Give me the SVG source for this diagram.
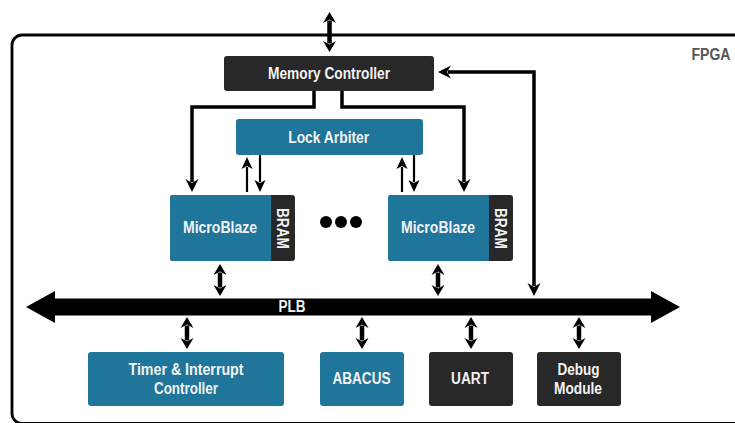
<svg xmlns="http://www.w3.org/2000/svg" width="735" height="423" viewBox="0 0 735 423">
<style>
.teal{fill:#20759a}
.dark{fill:#282828}
.lbl{font-family:"Liberation Sans",Arial,sans-serif;font-weight:bold;font-size:16px;fill:#f2f2f2;text-anchor:middle}
.w4{stroke:#000;stroke-width:4.5;fill:none}
.w3{stroke:#000;stroke-width:3.5;fill:none}
.w2{stroke:#000;stroke-width:2.2;fill:none}
</style>
<defs>
<marker id="hb" markerUnits="userSpaceOnUse" orient="auto-start-reverse" markerWidth="30" markerHeight="30" refX="0" refY="0" viewBox="-15 -15 30 30" overflow="visible">
<path d="M1,0 L-2.5,-6.5 L8.5,0 L-2.5,6.5 Z" fill="#000"/>
</marker>
<marker id="hm" markerUnits="userSpaceOnUse" orient="auto-start-reverse" markerWidth="30" markerHeight="30" refX="0" refY="0" viewBox="-15 -15 30 30" overflow="visible">
<path d="M1,0 L-3,-6.5 L10,0 L-3,6.5 Z" fill="#000"/>
</marker>
<marker id="hs" markerUnits="userSpaceOnUse" orient="auto-start-reverse" markerWidth="30" markerHeight="30" refX="0" refY="0" viewBox="-15 -15 30 30" overflow="visible">
<path d="M1,0 L-2,-5.5 L10,0 L-2,5.5 Z" fill="#000"/>
</marker>
</defs>

<rect x="12" y="35" width="740" height="388.5" rx="10" fill="none" stroke="#000" stroke-width="2.8"/>
<text x="711" y="60" font-family="Liberation Sans,Arial,sans-serif" font-weight="bold" font-size="16" fill="#555" text-anchor="middle" textLength="39" lengthAdjust="spacingAndGlyphs">FPGA</text>

<g id="connectors">
<path class="w4" d="M329.5,20.5 V43.5" marker-start="url(#hb)" marker-end="url(#hb)"/>
<path class="w3" d="M314,91 V107 H192 V182" marker-end="url(#hm)"/>
<path class="w3" d="M342,91 V107 H464 V182" marker-end="url(#hm)"/>
<path class="w3" d="M448,72 H534 V286" marker-start="url(#hm)" marker-end="url(#hm)"/>
<path class="w2" d="M247,192 V167" marker-end="url(#hs)"/>
<path class="w2" d="M260,155 V182" marker-end="url(#hs)"/>
<path class="w2" d="M402,192 V167" marker-end="url(#hs)"/>
<path class="w2" d="M414,155 V182" marker-end="url(#hs)"/>
<path class="w4" d="M220,272.5 V287.5" marker-start="url(#hb)" marker-end="url(#hb)"/>
<path class="w4" d="M438,272.5 V287.5" marker-start="url(#hb)" marker-end="url(#hb)"/>
<path class="w4" d="M187,325.5 V340.5" marker-start="url(#hb)" marker-end="url(#hb)"/>
<path class="w4" d="M362,325.5 V340.5" marker-start="url(#hb)" marker-end="url(#hb)"/>
<path class="w4" d="M471,325.5 V340.5" marker-start="url(#hb)" marker-end="url(#hb)"/>
<path class="w4" d="M579,325.5 V340.5" marker-start="url(#hb)" marker-end="url(#hb)"/>
</g>

<g id="plb">
<path d="M26,307 L55,291 L55,298.5 L651,298.5 L651,291 L680,307 L651,323 L651,315.5 L55,315.5 L55,323 Z" fill="#000"/>
<text class="lbl" x="292" y="312" font-size="15" textLength="27" lengthAdjust="spacingAndGlyphs">PLB</text>
</g>

<g id="memory-controller">
<rect class="dark" x="224" y="56" width="210" height="35" rx="3"/>
<text class="lbl" x="329" y="79" textLength="122" lengthAdjust="spacingAndGlyphs">Memory Controller</text>
</g>

<g id="lock-arbiter">
<rect class="teal" x="236" y="119" width="187" height="36" rx="3"/>
<text class="lbl" x="328.7" y="143" textLength="81" lengthAdjust="spacingAndGlyphs">Lock Arbiter</text>
</g>

<g id="microblaze-1">
<rect class="dark" x="170" y="195" width="125" height="66" rx="3"/>
<path class="teal" d="M173,195 H271 V261 H173 A3,3 0 0 1 170,258 V198 A3,3 0 0 1 173,195 Z"/>
<text class="lbl" x="220" y="233" textLength="74" lengthAdjust="spacingAndGlyphs">MicroBlaze</text>
<text class="lbl" transform="translate(276.5,228.5) rotate(90)" textLength="41" lengthAdjust="spacingAndGlyphs">BRAM</text>
</g>

<g id="dots">
<circle cx="326" cy="222" r="6" fill="#000"/>
<circle cx="341" cy="222" r="6" fill="#000"/>
<circle cx="356" cy="222" r="6" fill="#000"/>
</g>

<g id="microblaze-2">
<rect class="dark" x="388" y="195" width="125" height="66" rx="3"/>
<path class="teal" d="M391,195 H489 V261 H391 A3,3 0 0 1 388,258 V198 A3,3 0 0 1 391,195 Z"/>
<text class="lbl" x="438" y="233" textLength="74" lengthAdjust="spacingAndGlyphs">MicroBlaze</text>
<text class="lbl" transform="translate(495,228.5) rotate(90)" textLength="41" lengthAdjust="spacingAndGlyphs">BRAM</text>
</g>

<g id="timer">
<rect class="teal" x="88" y="352" width="196" height="54" rx="3"/>
<text class="lbl" x="186" y="375" textLength="115" lengthAdjust="spacingAndGlyphs">Timer &amp; Interrupt</text>
<text class="lbl" x="186" y="394" textLength="64" lengthAdjust="spacingAndGlyphs">Controller</text>
</g>

<g id="abacus">
<rect class="teal" x="320" y="352" width="84" height="54" rx="3"/>
<text class="lbl" x="361.5" y="384" textLength="58" lengthAdjust="spacingAndGlyphs">ABACUS</text>
</g>

<g id="uart">
<rect class="dark" x="429" y="352" width="84" height="54" rx="3"/>
<text class="lbl" x="470" y="384" textLength="38" lengthAdjust="spacingAndGlyphs">UART</text>
</g>

<g id="debug">
<rect class="dark" x="537" y="352" width="84" height="54" rx="3"/>
<text class="lbl" x="578.5" y="375" textLength="42" lengthAdjust="spacingAndGlyphs">Debug</text>
<text class="lbl" x="578" y="394" textLength="48" lengthAdjust="spacingAndGlyphs">Module</text>
</g>
</svg>
